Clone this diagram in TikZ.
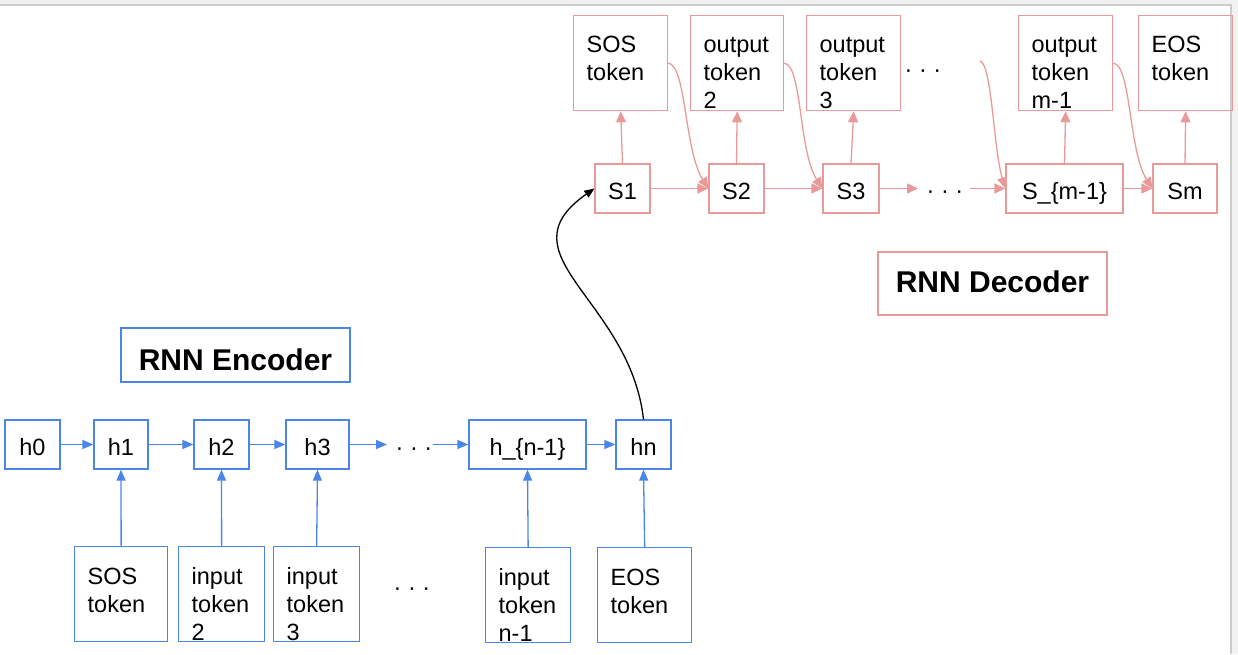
\documentclass[tikz,border=0pt]{standalone}
\usepackage{fontspec}
\setmainfont{Liberation Sans}
\usetikzlibrary{arrows.meta}
\definecolor{encblue}{HTML}{4A86E8}
\definecolor{decpink}{HTML}{EA9999}
\tikzstyle{enc_state} = [draw=encblue, line width=1.3pt, minimum height=49pt, inner sep=0pt, text height=26pt, text depth=5pt]
\tikzstyle{dec_state} = [draw=decpink, line width=1.3pt, minimum height=49pt, inner sep=0pt, text height=26pt, text depth=5pt]
\tikzstyle{enc_token} = [draw=encblue, line width=1.3pt, anchor=north west, inner xsep=13pt, inner ysep=0pt, text height=38pt, text depth=57pt, align=left]
\tikzstyle{dec_token} = [draw=decpink, line width=1.3pt, anchor=north west, inner xsep=13pt, inner ysep=0pt, text height=37pt, text depth=58pt, align=left]
\tikzstyle{title_box} = [line width=1.3pt, minimum width=229pt, inner sep=0pt, font=\fontsize{30}{36}\selectfont\bfseries]
\tikzstyle{dots} = [anchor=base, inner sep=0pt]
\tikzstyle{enc_edge} = [draw=encblue, line width=1.3pt, -{Triangle[length=11pt,width=9pt]}]
\tikzstyle{dec_edge} = [draw=decpink, line width=1.3pt, -{Triangle[length=11pt,width=10pt]}]
\tikzstyle{link_edge} = [draw=black, line width=1.3pt, -{Triangle[length=10pt,width=8pt]}]

\begin{document}
\begin{tikzpicture}[x=1pt, y=-1pt, font=\fontsize{23.5}{28}\selectfont]
\useasboundingbox (0,0) rectangle (1238,654);
% window frame
\fill[gray!12] (0,0) rectangle (1238,4);
\fill[gray!10] (1232,0) rectangle (1238,654);
\draw[gray!40, line width=2pt] (0,5) -- (1231,5) -- (1231,654);

% encoder
\node (h0) at (32.5,444.5) [enc_state, minimum width=55pt] {h0};
\node (h1) at (121,444.5) [enc_state, minimum width=54pt] {h1};
\node (h2) at (221.5,444.5) [enc_state, minimum width=55pt] {h2};
\node (h3) at (317.5,444.5) [enc_state, minimum width=63pt] {h3};
\node (hdots) at (414,455) [dots] {· · ·};
\node (hn1) at (527.5,444.5) [enc_state, minimum width=117pt] {h\_\{n-1\}};
\node (hn) at (643.5,444.5) [enc_state, minimum width=55pt] {hn};

\node (in1) at (74,546) [enc_token, text width=67pt] {SOS\\token};
\node (in2) at (178,546) [enc_token, text width=60pt] {input\\token\\2};
\node (in3) at (273,546) [enc_token, text width=60pt] {input\\token\\3};
\node (idots) at (412,595) [dots] {· · ·};
\node (inn1) at (485,547) [enc_token, text width=59pt] {input\\token\\n-1};
\node (inn) at (597,547) [enc_token, text width=68pt] {EOS\\token};

\node (enc) at (235.5,355) [title_box, draw=encblue, minimum height=54pt, text height=36pt, text depth=6pt] {RNN Encoder};

\draw[enc_edge] (h0) -- (h1);
\draw[enc_edge] (h1) -- (h2);
\draw[enc_edge] (h2) -- (h3);
\draw[enc_edge] (h3.east) -- (387,444.5);
\draw[enc_edge] (433,444.5) -- (hn1.west);
\draw[enc_edge] (hn1) -- (hn);
\draw[enc_edge] (in1.north) -- (h1.south);
\draw[enc_edge] (in2.north) -- (h2.south);
\draw[enc_edge] (in3.north) -- (h3.south);
\draw[enc_edge] (inn1.north) -- (hn1.south);
\draw[enc_edge] (inn.north) -- (hn.south);

% decoder
\node (S1) at (622.5,188.5) [dec_state, minimum width=55pt] {S1};
\node (S2) at (736.5,188.5) [dec_state, minimum width=55pt] {S2};
\node (S3) at (851,188.5) [dec_state, minimum width=56pt] {S3};
\node (sdots) at (945,198) [dots] {· · ·};
\node (Sm1) at (1064.5,188.5) [dec_state, minimum width=117pt] {S\_\{m-1\}};
\node (Sm) at (1185,188.5) [dec_state, minimum width=64pt] {Sm};

\node (out1) at (573,15) [dec_token, text width=68pt] {SOS\\token};
\node (out2) at (690,15) [dec_token, text width=67pt] {output\\token\\2};
\node (out3) at (806,15) [dec_token, text width=68pt] {output\\token\\3};
\node (odots) at (923,77) [dots] {· · ·};
\node (outm1) at (1018,15) [dec_token, text width=68pt] {output\\token\\m-1};
\node (outm) at (1138,15) [dec_token, text width=68pt] {EOS\\token};

\node (dec) at (992.5,283.5) [title_box, draw=decpink, minimum height=63pt, text height=24pt, text depth=7pt] {RNN Decoder};

\draw[dec_edge] (S1) -- (S2);
\draw[dec_edge] (S2) -- (S3);
\draw[dec_edge] (S3.east) -- (918,188.5);
\draw[dec_edge] (970,188.5) -- (Sm1.west);
\draw[dec_edge] (Sm1) -- (Sm);
\draw[dec_edge] (S1.north) -- (out1.south);
\draw[dec_edge] (S2.north) -- (out2.south);
\draw[dec_edge] (S3.north) -- (out3.south);
\draw[dec_edge] (Sm1.north) -- (outm1.south);
\draw[dec_edge] (Sm.north) -- (outm.south);

\coordinate (cfree) at (980,61);
\draw[dec_edge] (out1.east) .. controls +(18,2) and +(-24,-38) .. (S2.west);
\draw[dec_edge] (out2.east) .. controls +(18,2) and +(-24,-38) .. (S3.west);
\draw[dec_edge] (cfree) .. controls +(12,3) and +(-12,-40) .. (Sm1.west);
\draw[dec_edge] (outm1.east) .. controls +(18,2) and +(-24,-38) .. (Sm.west);

% encoder to decoder
\draw[link_edge] (hn.north) .. controls +(-13.5,-120) and +(-95,66.5) .. (S1.west);
\end{tikzpicture}
\end{document}
